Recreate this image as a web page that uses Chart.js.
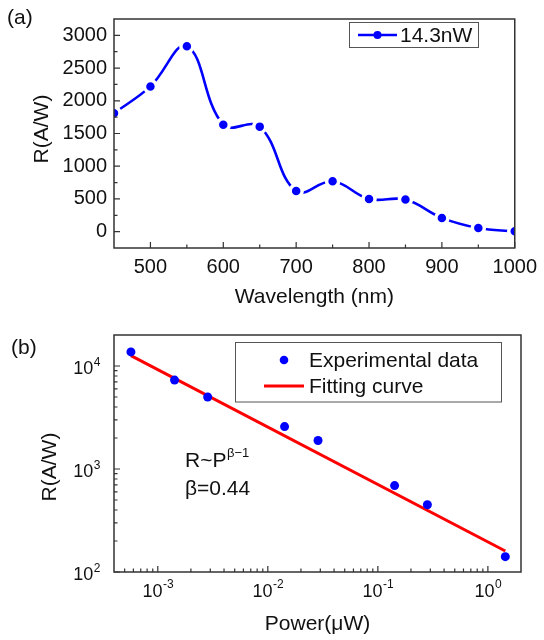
<!DOCTYPE html>
<html>
<head>
<meta charset="utf-8">
<script src="https://cdn.jsdelivr.net/npm/chart.js@4.4.0/dist/chart.umd.min.js"></script>
<style>
  body { margin: 0; background: #fff; }
  .panel { position: absolute; left: 0; width: 544px; height: 320px; }
</style>
</head>
<body>
<div class="panel" style="top:0"><canvas id="chartA"></canvas></div>
<div class="panel" style="top:320px"><canvas id="chartB"></canvas></div>
<script>
// (a) responsivity vs wavelength
var wavelengths = [450, 500, 550, 600, 650, 700, 750, 800, 850, 900, 950, 1000];
var responsivity = [1810, 2220, 2835, 1635, 1605, 620, 770, 500, 490, 210, 55, 5];
var wlTicks = [500, 600, 700, 800, 900, 1000];
var respTicks = [0, 500, 1000, 1500, 2000, 2500, 3000];

// (b) responsivity vs power
var powers = [5.7e-4, 1.42e-3, 2.84e-3, 1.42e-2, 2.86e-2, 0.142, 0.282, 1.44];
var respPower = [13700, 7300, 5000, 2580, 1890, 690, 450, 141];
var fitPowers = [5.7e-4, 1.44];
var fitResp = [12600, 160];
var powerTicks = [1e-3, 1e-2, 1e-1, 1];
var respLogTicks = [1e2, 1e3, 1e4];

var FONT = '"Liberation Sans", Arial, sans-serif';
var INK = '#111';
var BLUE = '#0000ff';
var RED = '#ff0000';

Chart.defaults.font.family = FONT;
Chart.defaults.color = INK;

function pts(xs, ys) {
  return xs.map(function (x, i) { return { x: x, y: ys[i] }; });
}

function minorValues(scale) {
  var out = [];
  if (scale.type === 'logarithmic') {
    for (var e = Math.floor(Math.log10(scale.min)); e <= Math.ceil(Math.log10(scale.max)); e++) {
      for (var m = 2; m <= 9; m++) {
        var v = m * Math.pow(10, e);
        if (v > scale.min && v < scale.max) out.push(v);
      }
    }
  } else {
    var t = scale.ticks.map(function (k) { return k.value; });
    var half = (t[1] - t[0]) / 2;
    for (var w = t[0] - half; w < scale.max; w += half * 2) {
      if (w > scale.min) out.push(w);
    }
  }
  return out;
}

// frame around the plot with inward tick marks
var framePlugin = {
  id: 'frame',
  afterDraw: function (chart) {
    var ctx = chart.ctx, a = chart.chartArea;
    var xs = chart.scales.x, ys = chart.scales.y;
    ctx.save();
    ctx.strokeStyle = '#333';
    ctx.lineWidth = 1.5;
    ctx.strokeRect(a.left, a.top, a.right - a.left, a.bottom - a.top);
    ctx.lineWidth = 1.2;
    ctx.beginPath();
    xs.ticks.forEach(function (t) {
      var px = xs.getPixelForValue(t.value);
      ctx.moveTo(px, a.bottom); ctx.lineTo(px, a.bottom - 6);
    });
    minorValues(xs).forEach(function (v) {
      var px = xs.getPixelForValue(v);
      ctx.moveTo(px, a.bottom); ctx.lineTo(px, a.bottom - 3.5);
    });
    ys.ticks.forEach(function (t) {
      var py = ys.getPixelForValue(t.value);
      ctx.moveTo(a.left, py); ctx.lineTo(a.left + 6, py);
    });
    minorValues(ys).forEach(function (v) {
      var py = ys.getPixelForValue(v);
      ctx.moveTo(a.left, py); ctx.lineTo(a.left + 3.5, py);
    });
    ctx.stroke();
    ctx.restore();
  }
};

// 10^n tick labels for the log axes
function drawPow(ctx, v, x, y, align) {
  var e = String(Math.round(Math.log10(v)));
  ctx.font = '18px ' + FONT;
  var w1 = ctx.measureText('10').width;
  ctx.font = '12px ' + FONT;
  var w2 = ctx.measureText(e).width;
  var x0 = align === 'right' ? x - w1 - w2 : x - (w1 + w2) / 2;
  ctx.font = '18px ' + FONT;
  ctx.fillText('10', x0, y);
  ctx.font = '12px ' + FONT;
  ctx.fillText(e, x0 + w1 + 0.5, y - 7);
}

var logLabelPlugin = {
  id: 'logLabels',
  afterDraw: function (chart) {
    var ctx = chart.ctx, a = chart.chartArea;
    var xs = chart.scales.x, ys = chart.scales.y;
    ctx.save();
    ctx.fillStyle = INK;
    ctx.textAlign = 'left';
    ctx.textBaseline = 'middle';
    xs.ticks.forEach(function (t) {
      drawPow(ctx, t.value, xs.getPixelForValue(t.value), a.bottom + 20, 'center');
    });
    ys.ticks.forEach(function (t) {
      drawPow(ctx, t.value, a.left - 14, ys.getPixelForValue(t.value) + 3.5, 'right');
    });
    ctx.restore();
  }
};

// panel label, y title, legend box and annotations
var decoPlugin = {
  id: 'deco',
  afterDraw: function (chart, args, opts) {
    var ctx = chart.ctx;
    ctx.save();
    ctx.fillStyle = INK;
    ctx.font = '21px ' + FONT;
    ctx.textBaseline = 'middle';
    ctx.fillText(opts.panel, opts.panelX, opts.panelY);

    ctx.save();
    ctx.translate(opts.yTitle[1], opts.yTitle[2]);
    ctx.rotate(-Math.PI / 2);
    ctx.textAlign = 'center';
    ctx.fillText(opts.yTitle[0], 0, 0);
    ctx.restore();

    var b = opts.box;
    ctx.strokeStyle = '#555';
    ctx.lineWidth = 1;
    ctx.strokeRect(b[0], b[1], b[2], b[3]);
    opts.entries.forEach(function (en) {
      var ds = chart.data.datasets[en.ds];
      if (en.line) {
        ctx.strokeStyle = ds.borderColor;
        ctx.lineWidth = ds.borderWidth;
        ctx.beginPath();
        ctx.moveTo(en.x0, en.y); ctx.lineTo(en.x1, en.y);
        ctx.stroke();
      }
      if (en.dot) {
        ctx.fillStyle = ds.pointBackgroundColor;
        ctx.beginPath();
        ctx.arc((en.x0 + en.x1) / 2, en.y, en.dot, 0, Math.PI * 2);
        ctx.fill();
      }
      ctx.fillStyle = INK;
      ctx.fillText(ds.label, en.tx, en.y + 1);
    });
    if (opts.note) {
      ctx.fillText('R~P', 185, 141);
      ctx.font = '13px ' + FONT;
      ctx.fillText('\u03b2\u22121', 227, 133);
      ctx.font = '21px ' + FONT;
      ctx.fillText('\u03b2=0.44', 185, 169);
    }
    ctx.restore();
  }
};

new Chart(document.getElementById('chartA'), {
  type: 'line',
  data: {
    datasets: [{
      label: '14.3nW',
      data: pts(wavelengths, responsivity),
      borderColor: BLUE,
      borderWidth: 2.6,
      tension: 0.4,
      pointRadius: 6,
      pointBorderWidth: 3.5,
      pointBackgroundColor: BLUE,
      pointBorderColor: '#fff',
      clip: 0
    }]
  },
  options: {
    responsive: true,
    maintainAspectRatio: false,
    animation: false,
    layout: { padding: { top: 12, right: 23, left: 0, bottom: 0 } },
    scales: {
      x: {
        type: 'linear', min: 450, max: 1000,
        afterBuildTicks: function (s) { s.ticks = wlTicks.map(function (v) { return { value: v }; }); },
        afterFit: function (s) { s.height = 72; },
        grid: { display: false, drawTicks: false },
        border: { display: false },
        ticks: { padding: 7, font: { size: 20 }, color: INK, callback: function (v) { return String(v); } },
        title: { display: true, text: 'Wavelength (nm)', font: { size: 21 }, padding: { top: 0, bottom: 10 } }
      },
      y: {
        min: -250, max: 3250,
        afterBuildTicks: function (s) { s.ticks = respTicks.map(function (v) { return { value: v }; }); },
        afterFit: function (s) { s.width = 114; },
        grid: { display: false, drawTicks: false },
        border: { display: false },
        ticks: { padding: 7, font: { size: 20 }, color: INK, callback: function (v) { return String(v); } }
      }
    },
    plugins: {
      legend: { display: false },
      tooltip: { enabled: false },
      deco: {
        panel: '(a)', panelX: 7, panelY: 18,
        yTitle: ['R(A/W)', 42, 129],
        box: [349.5, 22.5, 129, 25],
        entries: [{ ds: 0, line: true, dot: 4, x0: 358, x1: 397, y: 35, tx: 400 }]
      }
    }
  },
  plugins: [framePlugin, decoPlugin]
});

new Chart(document.getElementById('chartB'), {
  type: 'scatter',
  data: {
    datasets: [{
      label: 'Experimental data',
      data: pts(powers, respPower),
      pointRadius: 4.5,
      pointBackgroundColor: BLUE,
      pointBorderWidth: 0,
      borderColor: BLUE
    }, {
      label: 'Fitting curve',
      data: pts(fitPowers, fitResp),
      showLine: true,
      borderColor: RED,
      borderWidth: 3,
      pointRadius: 0
    }]
  },
  options: {
    responsive: true,
    maintainAspectRatio: false,
    animation: false,
    layout: { padding: { top: 15, right: 23, left: 0, bottom: 0 } },
    scales: {
      x: {
        type: 'logarithmic', min: 4e-4, max: 2,
        afterBuildTicks: function (s) { s.ticks = powerTicks.map(function (v) { return { value: v }; }); },
        afterFit: function (s) { s.height = 68; },
        grid: { display: false, drawTicks: false },
        border: { display: false },
        ticks: { display: false },
        title: { display: true, text: 'Power(\u03bcW)', font: { size: 21 }, padding: { top: 0, bottom: 3 } }
      },
      y: {
        type: 'logarithmic', min: 100, max: 20000,
        afterBuildTicks: function (s) { s.ticks = respLogTicks.map(function (v) { return { value: v }; }); },
        afterFit: function (s) { s.width = 114; },
        grid: { display: false, drawTicks: false },
        border: { display: false },
        ticks: { display: false }
      }
    },
    plugins: {
      legend: { display: false },
      tooltip: { enabled: false },
      deco: {
        panel: '(b)', panelX: 11, panelY: 28,
        yTitle: ['R(A/W)', 50, 147],
        box: [235.5, 22.5, 266, 59.5],
        entries: [
          { ds: 0, line: false, dot: 4.3, x0: 264, x1: 304, y: 40, tx: 309 },
          { ds: 1, line: true, dot: 0, x0: 264, x1: 304, y: 66, tx: 309 }
        ],
        note: true
      }
    }
  },
  plugins: [framePlugin, logLabelPlugin, decoPlugin]
});
</script>
</body>
</html>
